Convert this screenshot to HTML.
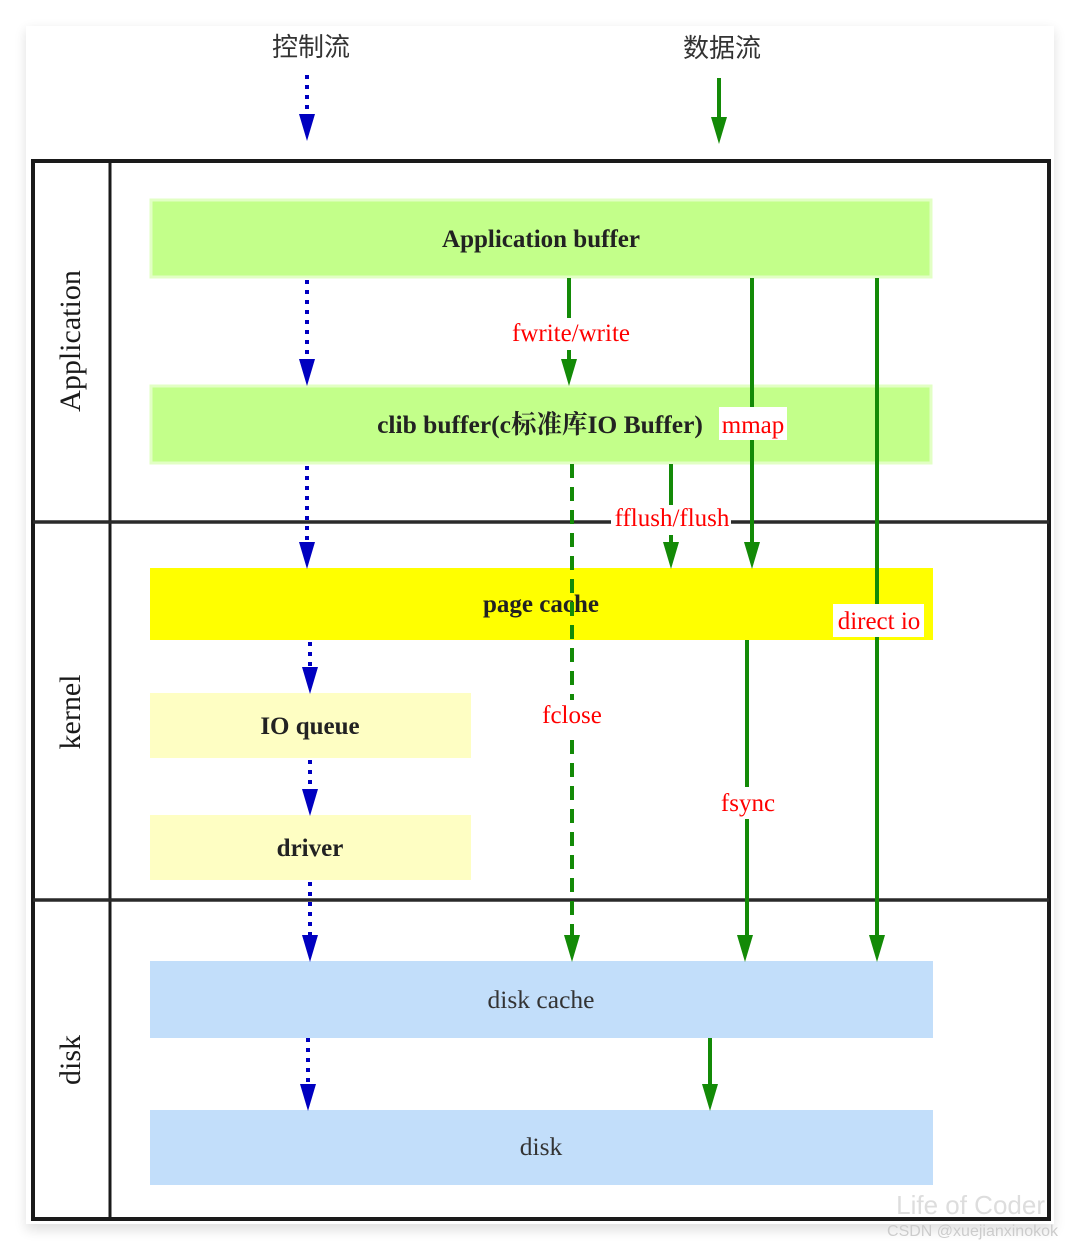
<!DOCTYPE html>
<html><head><meta charset="utf-8"><style>
html,body{margin:0;padding:0;background:#fff;}
svg{display:block;}
</style></head><body>
<svg width="1080" height="1250" viewBox="0 0 1080 1250" xmlns="http://www.w3.org/2000/svg" font-family="'Liberation Serif','Noto Serif CJK SC',serif">
<defs>
<filter id="sh" x="-5%" y="-5%" width="110%" height="110%"><feGaussianBlur stdDeviation="6"/></filter>
</defs>
<rect x="26" y="30" width="1028" height="1200" fill="#000" opacity="0.12" filter="url(#sh)"/>
<rect x="26" y="26" width="1028" height="1198" fill="#fff"/>
<text x="311" y="56" font-size="26" text-anchor="middle" fill="#333" font-family="'Liberation Sans','Noto Sans CJK SC',sans-serif">控制流</text>
<text x="722" y="57" font-size="26" text-anchor="middle" fill="#333" font-family="'Liberation Sans','Noto Sans CJK SC',sans-serif">数据流</text>

<rect x="33" y="161" width="1016" height="1058" fill="none" stroke="#1a1a1a" stroke-width="4"/>
<line x1="110" y1="161" x2="110" y2="1219" stroke="#1a1a1a" stroke-width="3"/>
<line x1="33" y1="522" x2="1049" y2="522" stroke="#2a2a2a" stroke-width="3.5"/>
<line x1="33" y1="900" x2="1049" y2="900" stroke="#2a2a2a" stroke-width="3.5"/>
<text transform="translate(80,341) rotate(-90)" font-size="30" text-anchor="middle" fill="#1a1a1a">Application</text>
<text transform="translate(80,712) rotate(-90)" font-size="30" text-anchor="middle" fill="#1a1a1a">kernel</text>
<text transform="translate(80,1060) rotate(-90)" font-size="30" text-anchor="middle" fill="#1a1a1a">disk</text>

<rect x="151" y="200" width="780" height="77" fill="#c3ff8a" stroke="#e2ffc4" stroke-width="3"/>
<text x="541" y="247" font-size="25" font-weight="bold" text-anchor="middle" fill="#222">Application buffer</text>
<rect x="151" y="386" width="780" height="77" fill="#c3ff8a" stroke="#e2ffc4" stroke-width="3"/>
<text x="540" y="433" font-size="25.5" font-weight="bold" text-anchor="middle" fill="#222">clib buffer(c标准库IO Buffer)</text>
<rect x="150" y="568" width="783" height="72" fill="#ffff00"/>
<text x="541" y="612" font-size="25" font-weight="bold" text-anchor="middle" fill="#222">page cache</text>
<rect x="150" y="693" width="321" height="65" fill="#fefec3"/>
<text x="310" y="734" font-size="25" font-weight="bold" text-anchor="middle" fill="#222">IO queue</text>
<rect x="150" y="815" width="321" height="65" fill="#fefec3"/>
<text x="310" y="856" font-size="25" font-weight="bold" text-anchor="middle" fill="#222">driver</text>
<rect x="150" y="961" width="783" height="77" fill="#c2defa"/>
<text x="541" y="1008" font-size="25.5" text-anchor="middle" fill="#333">disk cache</text>
<rect x="150" y="1110" width="783" height="75" fill="#c2defa"/>
<text x="541" y="1155" font-size="25.5" text-anchor="middle" fill="#333">disk</text>

<g stroke="#0000c0" stroke-width="4" stroke-dasharray="4,6" fill="none">
<line x1="307" y1="75" x2="307" y2="115"/>
<line x1="307" y1="280" x2="307" y2="360"/>
<line x1="307" y1="466" x2="307" y2="543"/>
<line x1="310" y1="642" x2="310" y2="668"/>
<line x1="310" y1="760" x2="310" y2="790"/>
<line x1="310" y1="882" x2="310" y2="936"/>
<line x1="308" y1="1038" x2="308" y2="1085"/>
</g>
<g fill="#0000c0">
<polygon points="299,114 315,114 307,141"/>
<polygon points="299,359 315,359 307,386"/>
<polygon points="299,542 315,542 307,569"/>
<polygon points="302,667 318,667 310,694"/>
<polygon points="302,789 318,789 310,816"/>
<polygon points="302,935 318,935 310,962"/>
<polygon points="300,1084 316,1084 308,1111"/>
</g>

<g stroke="#138a07" stroke-width="4" fill="none">
<line x1="719" y1="78" x2="719" y2="120"/>
<line x1="569" y1="278" x2="569" y2="362"/>
<line x1="752" y1="278" x2="752" y2="545"/>
<line x1="877" y1="278" x2="877" y2="938"/>
<line x1="671" y1="464" x2="671" y2="545"/>
<line x1="572" y1="464" x2="572" y2="938" stroke-dasharray="14,9"/>
<line x1="747" y1="640" x2="747" y2="938"/>
<line x1="710" y1="1038" x2="710" y2="1087"/>
</g>
<g fill="#138a07">
<polygon points="711,117 727,117 719,144"/>
<polygon points="561,359 577,359 569,386"/>
<polygon points="744,542 760,542 752,569"/>
<polygon points="869,935 885,935 877,962"/>
<polygon points="663,542 679,542 671,569"/>
<polygon points="564,935 580,935 572,962"/>
<polygon points="737,935 753,935 745,962"/>
<polygon points="702,1084 718,1084 710,1111"/>
</g>

<g font-size="25" fill="#ff0000" text-anchor="middle">
<rect x="509" y="318" width="124" height="32" fill="#fff"/>
<text x="571" y="341">fwrite/write</text>
<rect x="719" y="407" width="68" height="33" fill="#fff"/>
<text x="753" y="433">mmap</text>
<rect x="611" y="505" width="120" height="30" fill="#fff"/>
<text x="672" y="526">fflush/flush</text>
<rect x="833" y="604" width="91" height="33" fill="#fff"/>
<text x="879" y="629">direct io</text>
<rect x="539" y="700" width="66" height="32" fill="#fff"/>
<text x="572" y="723">fclose</text>
<rect x="717" y="787" width="60" height="32" fill="#fff"/>
<text x="748" y="811">fsync</text>
</g>

<text x="1045" y="1214" font-size="26" text-anchor="end" fill="#ddd" font-family="'Liberation Sans',sans-serif">Life of Coder</text>
<text x="1058" y="1236" font-size="16" text-anchor="end" fill="#ccc" font-family="'Liberation Sans',sans-serif">CSDN @xuejianxinokok</text>
</svg>
</body></html>
